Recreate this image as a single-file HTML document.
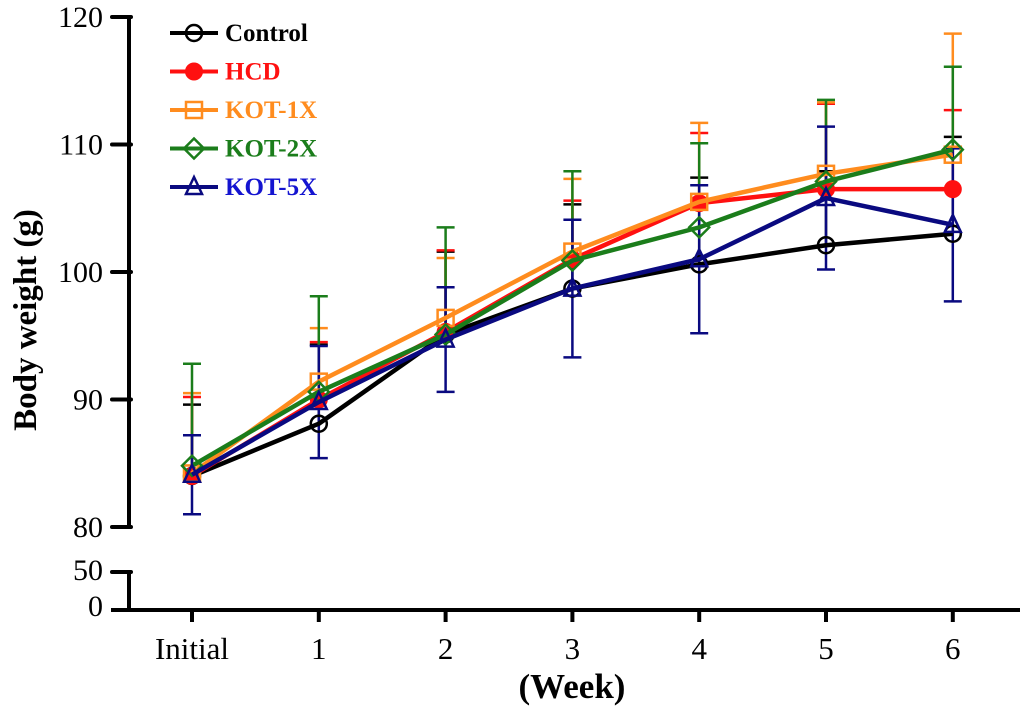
<!DOCTYPE html>
<html><head><meta charset="utf-8"><style>
body{margin:0;background:#fff}
svg{display:block;font-family:"Liberation Serif",serif}
</style></head><body>
<svg id="chart" width="1024" height="711" viewBox="0 0 1024 711" xmlns="http://www.w3.org/2000/svg">
<g id="axes"></g>
<g id="bars"></g>
<g id="lines"></g>
<g id="legend"></g>
</svg>
<script>
const categories=["Initial","1","2","3","4","5","6"];
const seriesNames=["Control","HCD","KOT-1X","KOT-2X","KOT-5X"];
const control=[84.0,88.1,95.1,98.7,100.6,102.1,103.0];
const hcd=[84.0,90.0,95.3,101.0,105.4,106.5,106.5];
const kot1x=[84.2,91.4,96.4,101.6,105.5,107.7,109.2];
const kot2x=[84.8,90.6,95.1,100.9,103.5,107.1,109.6];
const kot5x=[84.1,89.8,94.7,98.7,101.0,105.8,103.7];
const controlSd=[5.6,6.2,6.5,6.6,6.8,5.8,7.6];
const hcdSd=[6.2,4.5,6.4,4.6,5.5,6.7,6.2];
const kot1xSd=[6.3,4.2,4.7,5.7,6.2,5.6,9.5];
const kot2xSd=[8.0,7.5,8.4,7.0,6.6,6.4,6.5];
const kot5xSd=[3.1,4.4,4.1,5.4,5.8,5.6,6.0];
const yTicks=[80,90,100,110,120];
const lowTicks=[0,50];

const NS="http://www.w3.org/2000/svg";
function mk(t,a,p){const e=document.createElementNS(NS,t);for(const k in a)e.setAttribute(k,a[k]);p.appendChild(e);return e;}
const xS=i=>192+i*126.8;
const yS=v=>527-(v-80)*12.75;
const lowY={0:610,50:572};
const axes=document.getElementById('axes');
let e=mk('line',{x1:129,y1:17,x2:129,y2:527,stroke:'#000','stroke-width':4},axes);


e=mk('line',{x1:129,y1:572,x2:129,y2:610,stroke:'#000','stroke-width':4},axes);


e=mk('line',{x1:111,y1:610,x2:1020,y2:610,stroke:'#000','stroke-width':4},axes);


yTicks.forEach(v=>{
  const t=mk('line',{x1:112,y1:yS(v),x2:131,y2:yS(v),stroke:'#000','stroke-width':4,'stroke-linecap':'round'},axes);
  
  
  const l=mk('text',{x:103,y:yS(v)+10,'text-anchor':'end','font-size':30},axes);l.textContent=v;
  
  
});
lowTicks.forEach(v=>{
  if(v===50){const t=mk('line',{x1:112,y1:lowY[v],x2:131,y2:lowY[v],stroke:'#000','stroke-width':4,'stroke-linecap':'round'},axes);
  
  }
  const l=mk('text',{x:103,y:lowY[v]+(v===0?6:8),'text-anchor':'end','font-size':30},axes);l.textContent=v;
  
  
});
categories.forEach((c,i)=>{
  const t=mk('line',{x1:xS(i),y1:610,x2:xS(i),y2:622,stroke:'#000','stroke-width':4},axes);
  
  
  const l=mk('text',{x:xS(i),y:659,'text-anchor':'middle','font-size':31},axes);l.textContent=c;
  
  
});
e=mk('text',{x:572,y:698,'text-anchor':'middle','font-size':35,'font-weight':'bold'},axes);e.textContent='(Week)';


e=mk('text',{x:0,y:0,transform:'translate(36,320) rotate(-90)','text-anchor':'middle','font-size':33,'font-weight':'bold'},axes);e.textContent='Body weight (g)';



const series=[
 {name:'control',vals:control,sd:controlSd,col:'#000',tc:'#000',m:'circle',full:false},
 {name:'hcd',vals:hcd,sd:hcdSd,col:'#ff1010',tc:'#ff1010',m:'dot',full:false},
 {name:'kot-1x',vals:kot1x,sd:kot1xSd,col:'#ff8c1e',tc:'#ff8c1e',m:'square',full:false},
 {name:'kot-2x',vals:kot2x,sd:kot2xSd,col:'#1b7d1b',tc:'#1b7d1b',m:'diamond',full:false},
 {name:'kot-5x',vals:kot5x,sd:kot5xSd,col:'#0a0a80',tc:'#1414d0',m:'triangle',full:true}
];
const bars=document.getElementById('bars'),lines=document.getElementById('lines');
function marker(g,m,x,y,col){
  const r=8;let el;
  if(m==='circle')el=mk('circle',{cx:x,cy:y,r:r,fill:'none',stroke:col,'stroke-width':2.5},g);
  else if(m==='dot')el=mk('circle',{cx:x,cy:y,r:r+1,fill:col},g);
  else if(m==='square')el=mk('rect',{x:x-r,y:y-r,width:2*r,height:2*r,fill:'none',stroke:col,'stroke-width':2.5},g);
  else if(m==='diamond')el=mk('polygon',{points:`${x},${y-r-2} ${x+r+2},${y} ${x},${y+r+2} ${x-r-2},${y}`,fill:'none',stroke:col,'stroke-width':2.5},g);
  else el=mk('polygon',{points:`${x},${y-r-2} ${x+r},${y+r-1} ${x-r},${y+r-1}`,fill:'none',stroke:col,'stroke-width':2.5},g);
  return el;
}
series.forEach(s=>{
  s.vals.forEach((v,i)=>{
    const x=xS(i),top=yS(v+s.sd[i]),bot=s.full?yS(v-s.sd[i]):yS(v);
    const b=mk('path',{d:`M${x},${bot}V${top}M${x-9},${top}H${x+9}`+(s.full?`M${x-9},${bot}H${x+9}`:''),stroke:s.col,'stroke-width':2.5,fill:'none'},bars);
    
    
  });
});
series.forEach(s=>{
  const g=mk('g',{},lines);
  
  
  const p=mk('polyline',{points:s.vals.map((v,i)=>xS(i)+','+yS(v)).join(' '),fill:'none',stroke:s.col,'stroke-width':4.5,'stroke-linejoin':'round'},g);
  
  
  s.vals.forEach((v,i)=>{
    const mm=marker(g,s.m,xS(i),yS(v),s.col);
    
    
  });
});
const leg=document.getElementById('legend');
series.forEach((s,i)=>{
  const y=33+i*38.5;
  const g=mk('g',{},leg);
  
  
  mk('line',{x1:170,y1:y,x2:218,y2:y,stroke:s.col,'stroke-width':4},g);
  marker(g,s.m,194,y,s.col);
  const t=mk('text',{x:225,y:y+8,'font-size':25,'font-weight':'bold',fill:s.tc},g);
  t.textContent=seriesNames[i];
  
  
});
</script>
</body></html>
